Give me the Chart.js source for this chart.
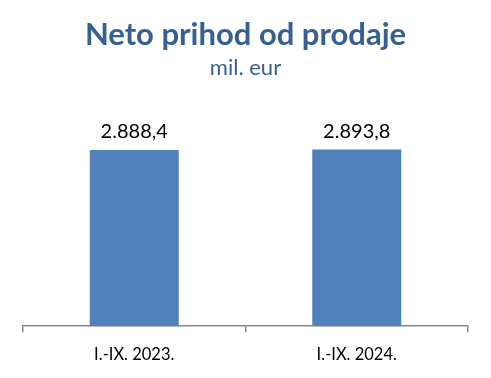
<!DOCTYPE html>
<html>
<head>
<meta charset="utf-8">
<script src="https://cdn.jsdelivr.net/npm/chart.js@4"></script>
<style>
  body { margin: 0; background: #fff; }
  #wrap { width: 491px; height: 378px; }
</style>
</head>
<body>
<div id="wrap"><canvas id="revenueChart" width="491" height="378"></canvas></div>
<script>
// Chart data
const periods = ['I.-IX. 2023.', 'I.-IX. 2024.'];
const revenue = [2888.4, 2893.8]; // mil. eur
const yMin = 0;
const yMax = 3500;

const ctx = document.getElementById('revenueChart').getContext('2d');

// draws the value above each bar
const valueLabels = {
    id: 'valueLabels',
    afterDatasetsDraw(chart) {
        const c = chart.ctx;
        const meta = chart.getDatasetMeta(0);
        c.save();
        c.font = '20px Lato';
        c.fillStyle = '#000';
        c.textAlign = 'center';
        c.textBaseline = 'bottom';
        meta.data.forEach((bar, i) => {
            const txt = revenue[i].toLocaleString('de-DE', { minimumFractionDigits: 1, maximumFractionDigits: 1 });
            c.fillText(txt, bar.x, bar.y - 8);
        });
        c.restore();
    }
};

const config = {
    type: 'bar',
    data: {
        labels: periods,
        datasets: [{
            data: revenue,
            backgroundColor: '#4F81BD',
            barPercentage: 0.4,
            categoryPercentage: 1.0
        }]
    },
    options: {
        responsive: false,
        animation: false,
        layout: { padding: { left: 23, right: 23, top: 0, bottom: 0 } },
        plugins: {
            legend: { display: false },
            tooltip: { enabled: false },
            title: {
                display: true,
                text: 'Neto prihod od prodaje',
                color: '#366092',
                font: { family: 'Lato', size: 31, weight: 'bold' },
                padding: { top: 16, bottom: 2 }
            },
            subtitle: {
                display: true,
                text: 'mil. eur',
                color: '#366092',
                font: { family: 'Lato', size: 22 },
                padding: { top: 0, bottom: 31 }
            }
        },
        scales: {
            x: {
                offset: true,
                grid: {
                    offset: true,
                    drawOnChartArea: false,
                    color: '#868686',
                    tickLength: 6,
                    lineWidth: 1.5
                },
                border: { color: '#868686', width: 1.5 },
                ticks: {
                    color: '#000',
                    padding: 13,
                    font: { family: 'Lato', size: 16.5 }
                }
            },
            y: {
                display: false,
                min: yMin,
                max: yMax
            }
        }
    },
    plugins: [valueLabels]
};

const revenueChart = new Chart(ctx, config);
</script>
</body>
</html>
